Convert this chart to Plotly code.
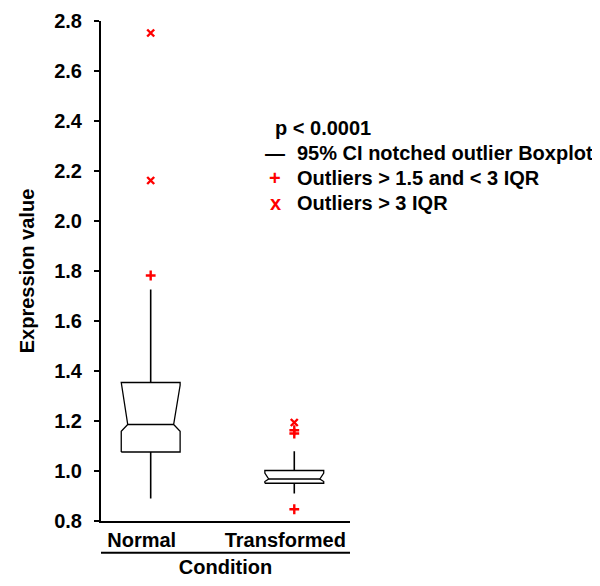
import plotly.graph_objects as go

# ---- data ----
categories = ["Normal", "Transformed"]
positions = [0, 1]
q1 = [1.076, 0.951]
median = [1.186, 0.968]
q3 = [1.354, 1.002]
notch_lo = [1.159, 0.958]
notch_hi = [1.343, 0.992]
whisker_lo = [0.890, 0.910]
whisker_hi = [1.726, 1.079]
mild_outliers = [[1.782], [1.163, 1.150, 0.847]]      # > 1.5 and < 3 IQR
extreme_outliers = [[2.752, 2.162], [1.194]]          # > 3 IQR
y_ticks = [0.8, 1.0, 1.2, 1.4, 1.6, 1.8, 2.0, 2.2, 2.4, 2.6, 2.8]
legend_title = "p < 0.0001"
legend_labels = ["95% CI notched outlier Boxplot",
                 "Outliers > 1.5 and < 3 IQR",
                 "Outliers > 3 IQR"]

# ---- style ----
HALF_W = 0.205
NOTCH_FRAC = [0.78, 0.87]
FONT = "Liberation Sans, Arial, sans-serif"
RED = "#ff0000"

fig = go.Figure()

for i, cat in enumerate(categories):
    p = positions[i]
    w = HALF_W
    nw = HALF_W * NOTCH_FRAC[i]
    xs = [p - w, p - w, p - nw, p - w, p - w, p + w, p + w, p + nw, p + w, p + w, p - w, None,
          p - nw, p + nw]
    ys = [q1[i], notch_lo[i], median[i], notch_hi[i], q3[i], q3[i], notch_hi[i], median[i],
          notch_lo[i], q1[i], q1[i], None, median[i], median[i]]
    fig.add_trace(go.Scatter(x=xs, y=ys, mode="lines", line=dict(color="black", width=1.3),
                             showlegend=False, hoverinfo="skip", name=cat))
    fig.add_trace(go.Scatter(x=[p, p, None, p, p],
                             y=[q3[i], whisker_hi[i], None, q1[i], whisker_lo[i]],
                             mode="lines", line=dict(color="black", width=1.6),
                             showlegend=False, hoverinfo="skip", name=cat + " whiskers"))
    fig.add_trace(go.Scatter(x=[p] * len(mild_outliers[i]), y=mild_outliers[i], mode="markers",
                             marker=dict(symbol="cross-thin", size=7,
                                         line=dict(color=RED, width=2.4)),
                             showlegend=False, name=cat + " outliers"))
    fig.add_trace(go.Scatter(x=[p] * len(extreme_outliers[i]), y=extreme_outliers[i],
                             mode="markers",
                             marker=dict(symbol="x-thin", size=7,
                                         line=dict(color=RED, width=2.4)),
                             showlegend=False, name=cat + " extreme outliers"))

# legend drawn as text (positions given in page pixels, converted to paper units)
def px_x(px):
    return (px - 101) / 249.0

def px_y(py):
    return (521 - py) / 500.0

bold20 = dict(family=FONT, size=20, color="black", weight="bold")
fig.add_annotation(x=px_x(273), y=px_y(128), xref="paper", yref="paper", text=legend_title,
                   showarrow=False, xanchor="left", yanchor="middle", font=bold20)
symbols = ["—", "+", "x"]
sym_colors = ["black", RED, RED]
for k, lab in enumerate(legend_labels):
    yy = px_y(153 + 25 * k)
    fig.add_annotation(x=px_x(275), y=yy, xref="paper", yref="paper", text=symbols[k],
                       showarrow=False, xanchor="center", yanchor="middle",
                       font=dict(family=FONT, size=20, color=sym_colors[k], weight="bold"))
    fig.add_annotation(x=px_x(295), y=yy, xref="paper", yref="paper", text=lab,
                       showarrow=False, xanchor="left", yanchor="middle", font=bold20)

# line under the category labels
fig.add_shape(type="line", xref="paper", yref="paper", x0=0, x1=1,
              y0=px_y(552.7), y1=px_y(552.7), line=dict(color="black", width=2))

# the page body has an 8px margin: figure is 584x570 placed at (8, 8)
fig.update_layout(
    width=584, height=570,
    margin=dict(l=93, r=242, t=13, b=57),
    plot_bgcolor="white", paper_bgcolor="white",
    showlegend=False,
    font=dict(family=FONT, size=20, color="black"),
    xaxis=dict(range=[-0.346, 1.388], tickvals=positions, ticktext=categories,
               showline=True, linecolor="black", linewidth=2, ticks="",
               showgrid=False, zeroline=False, ticklabelshift=-9,
               tickfont=bold20, automargin=False,
               title=dict(text="Condition", font=bold20, standoff=17)),
    yaxis=dict(range=[0.8, 2.8], tickvals=y_ticks, tickformat=".1f",
               showline=True, linecolor="black", linewidth=2,
               ticks="outside", ticklen=5, tickwidth=2, tickcolor="black",
               showgrid=False, zeroline=False, tickfont=bold20, automargin=False,
               ticklabelstandoff=8,
               title=dict(text="Expression value", font=bold20, standoff=14)),
)

fig.write_html("out.html")
